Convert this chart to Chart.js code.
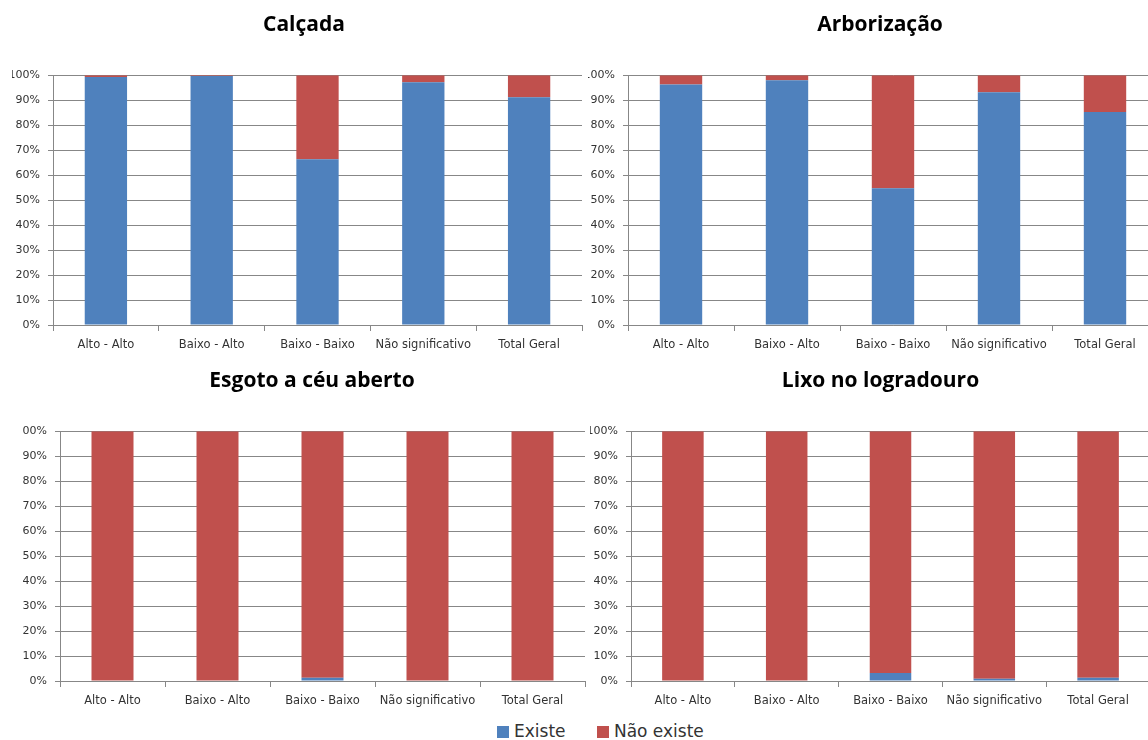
<!DOCTYPE html>
<html lang="pt">
<head>
    <meta charset="UTF-8" />
    <title>Calçada, Arborização, Esgoto, Lixo</title>
    <script src="https://cdn.jsdelivr.net/npm/chart.js"></script>
    <style>
        html, body { margin: 0; padding: 0; background: #fff; overflow: hidden; }
        body { width: 1148px; height: 740px; position: relative; font-family: 'DejaVu Sans', sans-serif; }
        canvas { position: absolute; }
        .legend { position: absolute; top: 721px; left: 497px; font-size: 17px; color: #333; white-space: nowrap; }
        .legend span.box { display: inline-block; width: 12px; height: 12px; margin-right: 5px; vertical-align: -1px; }
        .legend span.item { margin-right: 26px; }
    </style>
</head>
<body>
<canvas id="calcada" width="584" height="360" style="left:12px; top:0px"></canvas>
<canvas id="arborizacao" width="584" height="360" style="left:588px; top:0px"></canvas>
<canvas id="esgoto" width="580" height="360" style="left:22px; top:356px"></canvas>
<canvas id="lixo" width="581" height="360" style="left:590px; top:356px"></canvas>
<div class="legend">
    <span class="item"><span class="box" style="background:#4F81BD"></span>Existe</span>
    <span><span class="box" style="background:#C0504D"></span>Não existe</span>
</div>
<script>
    const categories = ['Alto - Alto', 'Baixo - Alto', 'Baixo - Baixo', 'Não significativo', 'Total Geral'];
    const seriesNames = ['Existe', 'Não existe'];
    const yTicks = [0, 10, 20, 30, 40, 50, 60, 70, 80, 90, 100];

    // valores em %
    const calcadaExiste = [99.3, 99.7, 66.4, 97.2, 91.2];
    const calcadaNao = [0.7, 0.3, 33.6, 2.8, 8.8];
    const arborExiste = [96.3, 98.0, 54.7, 93.2, 85.3];
    const arborNao = [3.7, 2.0, 45.3, 6.8, 14.7];
    const esgotoExiste = [0, 0, 1.3, 0, 0];
    const esgotoNao = [100, 100, 98.7, 100, 100];
    const lixoExiste = [0, 0, 3.2, 0.9, 1.3];
    const lixoNao = [100, 100, 96.8, 99.1, 98.7];

    const blue = '#4F81BD';
    const red = '#C0504D';
    const gridColor = '#878787';

    // an empty right axis (rightGap wide) keeps the title centred where Excel had it
    function makeChart(id, title, existe, nao, axisWidth, rightGap) {
        const ctx = document.getElementById(id).getContext('2d');
        return new Chart(ctx, {
            type: 'bar',
            data: {
                labels: categories,
                datasets: [
                    { label: seriesNames[0], data: existe, backgroundColor: blue, barPercentage: 0.4, categoryPercentage: 1.0 },
                    { label: seriesNames[1], data: nao, backgroundColor: red, barPercentage: 0.4, categoryPercentage: 1.0 }
                ]
            },
            options: {
                responsive: false,
                animation: false,
                layout: { padding: { top: 0, left: 0, right: 0, bottom: 5 } },
                plugins: {
                    legend: { display: false },
                    tooltip: { enabled: false },
                    title: {
                        display: true,
                        text: title,
                        color: '#000',
                        font: { family: "'Open Sans', sans-serif", size: 21, weight: 'bold' },
                        padding: { top: 12, bottom: 38 }
                    }
                },
                scales: {
                    x: {
                        stacked: true,
                        grid: { drawOnChartArea: false, drawTicks: true, tickLength: 6, color: gridColor },
                        border: { display: true, color: gridColor },
                        ticks: { color: '#333', padding: 7, maxRotation: 0, font: { family: "'DejaVu Sans', sans-serif", size: 11.5 } },
                        afterFit: function (scale) { scale.height = 30; }
                    },
                    y: {
                        stacked: true,
                        min: 0,
                        max: 100,
                        afterBuildTicks: function (scale) { scale.ticks = yTicks.map(v => ({ value: v })); },
                        grid: { color: gridColor, tickLength: 5, drawTicks: true },
                        border: { display: true, color: gridColor },
                        ticks: {
                            color: '#333',
                            padding: 8,
                            font: { family: "'DejaVu Sans', sans-serif", size: 11 },
                            callback: function (v) { return v + '%'; }
                        },
                        afterFit: function (scale) { scale.width = axisWidth; }
                    },
                    gap: {
                        type: 'linear',
                        position: 'right',
                        grid: { display: false },
                        border: { display: false },
                        ticks: { display: false },
                        afterFit: function (scale) { scale.width = rightGap; }
                    }
                }
            }
        });
    }

    makeChart('calcada', 'Calçada', calcadaExiste, calcadaNao, 41, 14);
    makeChart('arborizacao', 'Arborização', arborExiste, arborNao, 40, 14);
    makeChart('esgoto', 'Esgoto a céu aberto', esgotoExiste, esgotoNao, 38, 17);
    makeChart('lixo', 'Lixo no logradouro', lixoExiste, lixoNao, 41, 21);
</script>
</body>
</html>
